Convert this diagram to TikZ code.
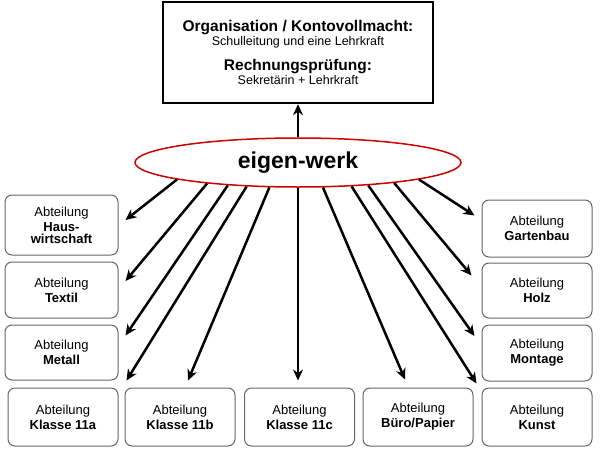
\documentclass[tikz,border=0pt]{standalone}
\usepackage{fontspec}
\setmainfont{Liberation Sans}
\usetikzlibrary{arrows.meta,calc,shapes.geometric}

\tikzset{
	abt/.style={draw=black!60,rounded corners=7pt,line width=1pt,align=center,
		minimum width=110pt,font=\fontsize{13}{15}\selectfont},
	pfeil/.style={line width=2.5pt,-{Stealth[length=11pt,width=10pt]}}
}

\begin{document}
\begin{tikzpicture}[x=1pt,y=-1pt]
	\useasboundingbox (0,0) rectangle (600,450);
	% oben
	\node[draw,line width=2.4pt,minimum width=270pt,minimum height=101pt,align=center]
		(orga) at (298,52.5) {{\fontsize{15.5}{18}\selectfont\bfseries Organisation / Kontovollmacht:}\\
		{\fontsize{12.5}{14}\selectfont Schulleitung und eine Lehrkraft}\\[11pt]
		{\fontsize{15.5}{18}\selectfont\bfseries Rechnungsprüfung:}\\
		{\fontsize{12.5}{14}\selectfont Sekretärin + Lehrkraft}};
	\node[ellipse,draw=red!80!black,line width=1.5pt,minimum width=326pt,minimum height=49pt,
		font=\fontsize{23}{27}\selectfont\bfseries] (ew) at (298,162.5) {eigen-werk};
	% links
	\node[abt,minimum width=113pt,minimum height=60pt] (haus) at (61.5,225) {Abteilung\\\textbf{Haus-}\\[-3pt]\textbf{wirtschaft}};
	\node[abt,minimum width=113pt,minimum height=56pt] (textil) at (61.5,290) {Abteilung\\\textbf{Textil}};
	\node[abt,minimum width=113pt,minimum height=55pt] (metall) at (61.5,352.5) {Abteilung\\\textbf{Metall}};
	% unten
	\node[abt,minimum height=58pt] (k11a) at (63,417) {Abteilung\\\textbf{Klasse 11a}};
	\node[abt,minimum height=58pt] (k11b) at (180,417) {Abteilung\\\textbf{Klasse 11b}};
	\node[abt,minimum height=58pt] (k11c) at (299.5,417) {Abteilung\\\textbf{Klasse 11c}};
	\node[abt,minimum height=58pt] (buero) at (418,417) {Abteilung\\\textbf{Büro/Papier}};
	\node[abt,minimum height=58pt] (kunst) at (537,417) {Abteilung\\\textbf{Kunst}};
	% rechts
	\node[abt,minimum height=57pt] (garten) at (537,228.5) {Abteilung\\\textbf{Gartenbau}};
	\node[abt,minimum height=55pt] (holz) at (537,290.5) {Abteilung\\\textbf{Holz}};
	\node[abt,minimum height=56pt] (montage) at (537,353) {Abteilung\\\textbf{Montage}};
	% pfeile
	\draw[pfeil] (ew.north) -- (orga.south);
	\draw[pfeil] (ew.188.5) -- ($(haus.east)+(7,-5)$);
	\draw[pfeil] (ew.193) -- ($(textil.east)+(7,-9)$);
	\draw[pfeil] (ew.198) -- ($(metall.east)+(7,-17)$);
	\draw[pfeil] (ew.205) -- ($(k11a.north east)+(8,-7)$);
	\draw[pfeil] (ew.221) -- ($(k11b.north)+(8,-7)$);
	\draw[pfeil] (ew.270) -- ($(k11c.north)+(-1.5,-7)$);
	\draw[pfeil] (ew.315) -- ($(buero.north)+(-13,-8)$);
	\draw[pfeil] (ew.336) -- ($(kunst.north west)+(-5,-4)$);
	\draw[pfeil] (ew.342) -- ($(montage.west)+(-7,-17)$);
	\draw[pfeil] (ew.348) -- ($(holz.west)+(-10,-15)$);
	\draw[pfeil] (ew.352) -- ($(garten.west)+(-7,-13)$);
\end{tikzpicture}
\end{document}
